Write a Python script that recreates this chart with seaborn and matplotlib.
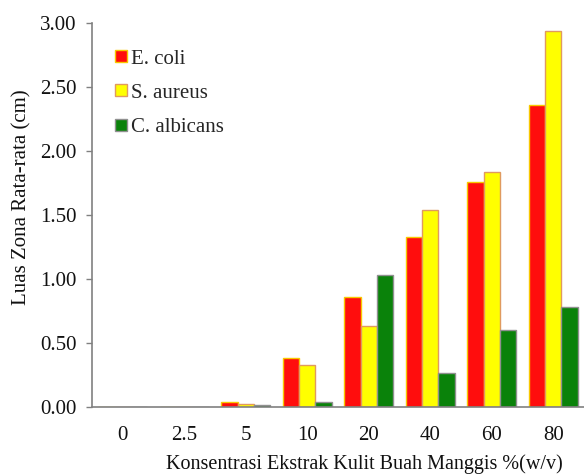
import matplotlib
matplotlib.use("Agg")
import matplotlib.pyplot as plt
from matplotlib.lines import Line2D
import seaborn as sns
import pandas as pd
import numpy as np

categories = ["0", "2.5", "5", "10", "20", "40", "60", "80"]
e_coli = [0.0, 0.0, 0.04, 0.38, 0.86, 1.33, 1.76, 2.36]
s_aureus = [0.0, 0.0, 0.02, 0.33, 0.63, 1.54, 1.84, 2.94]
c_albicans = [0.0, 0.0, 0.01, 0.04, 1.03, 0.26, 0.60, 0.78]
series_names = ["E. coli", "S. aureus", "C. albicans"]
yticks = [0.0, 0.5, 1.0, 1.5, 2.0, 2.5, 3.0]

colors = ["#ff0d0d", "#ffff00", "#0a820a"]
edges = ["#f7c800", "#e09a60", "#909090"]

rows = []
for name, vals in zip(series_names, [e_coli, s_aureus, c_albicans]):
    for c, v in zip(categories, vals):
        rows.append({"conc": c, "val": v, "org": name})
df = pd.DataFrame(rows)

sns.set_style("white")
plt.rcParams["font.family"] = ["Liberation Serif", "DejaVu Serif"]

fig = plt.figure(figsize=(5.84, 4.76), dpi=100)
ax = fig.add_axes([92/584, 1-406.7/476, 1-92/584, (406.7-23.3)/476])

sns.barplot(data=df, x="conc", y="val", hue="org", order=categories,
            hue_order=series_names, palette=colors, width=0.8, ax=ax,
            errorbar=None, legend=False, saturation=1)

for i, cont in enumerate(ax.containers):
    for bar in cont:
        bar.set_edgecolor(edges[i])
        bar.set_linewidth(1.0)

ax.set_ylim(0, 3.0)
ax.set_xlim(-0.5, len(categories) - 0.5)
ax.set_yticks(yticks)
ax.set_yticklabels([f"{t:.2f}" for t in yticks], fontsize=15, color="#111111")
ax.set_xticks(range(len(categories)))
ax.set_xticklabels(categories, fontsize=15, color="#111111")
ax.set_xticks(np.arange(-0.5, len(categories) + 0.5, 1), minor=True)
ax.tick_params(axis="x", which="major", length=0, pad=14)
ax.tick_params(axis="x", which="minor", length=5, color="#808080", width=1)
ax.tick_params(axis="y", which="major", length=4.3, color="#808080", width=1, pad=7, left=True)

for s in ["top", "right"]:
    ax.spines[s].set_visible(False)
for s in ["left", "bottom"]:
    ax.spines[s].set_color("#808080")
    ax.spines[s].set_linewidth(1.2)

ax.set_ylabel("Luas Zona Rata-rata (cm)", fontsize=15, color="#111111")
ax.yaxis.set_label_coords(-0.123, 0.547)
ax.set_xlabel("Konsentrasi Ekstrak Kulit Buah Manggis %(w/v)", fontsize=14.5, color="#111111")
ax.xaxis.set_label_coords(0.553, -0.123)

handles = [Line2D([0], [0], marker="s", linestyle="none", markersize=8,
                  markerfacecolor=colors[i], markeredgecolor=edges[i], markeredgewidth=1)
           for i in range(3)]
ax.legend(handles, series_names, loc="upper left", bbox_to_anchor=(0.046, 0.933),
          frameon=False, fontsize=15, handlelength=0.58, handletextpad=0.2,
          labelspacing=0.7, borderaxespad=0, borderpad=0)

fig.savefig("out.png", dpi=100)
